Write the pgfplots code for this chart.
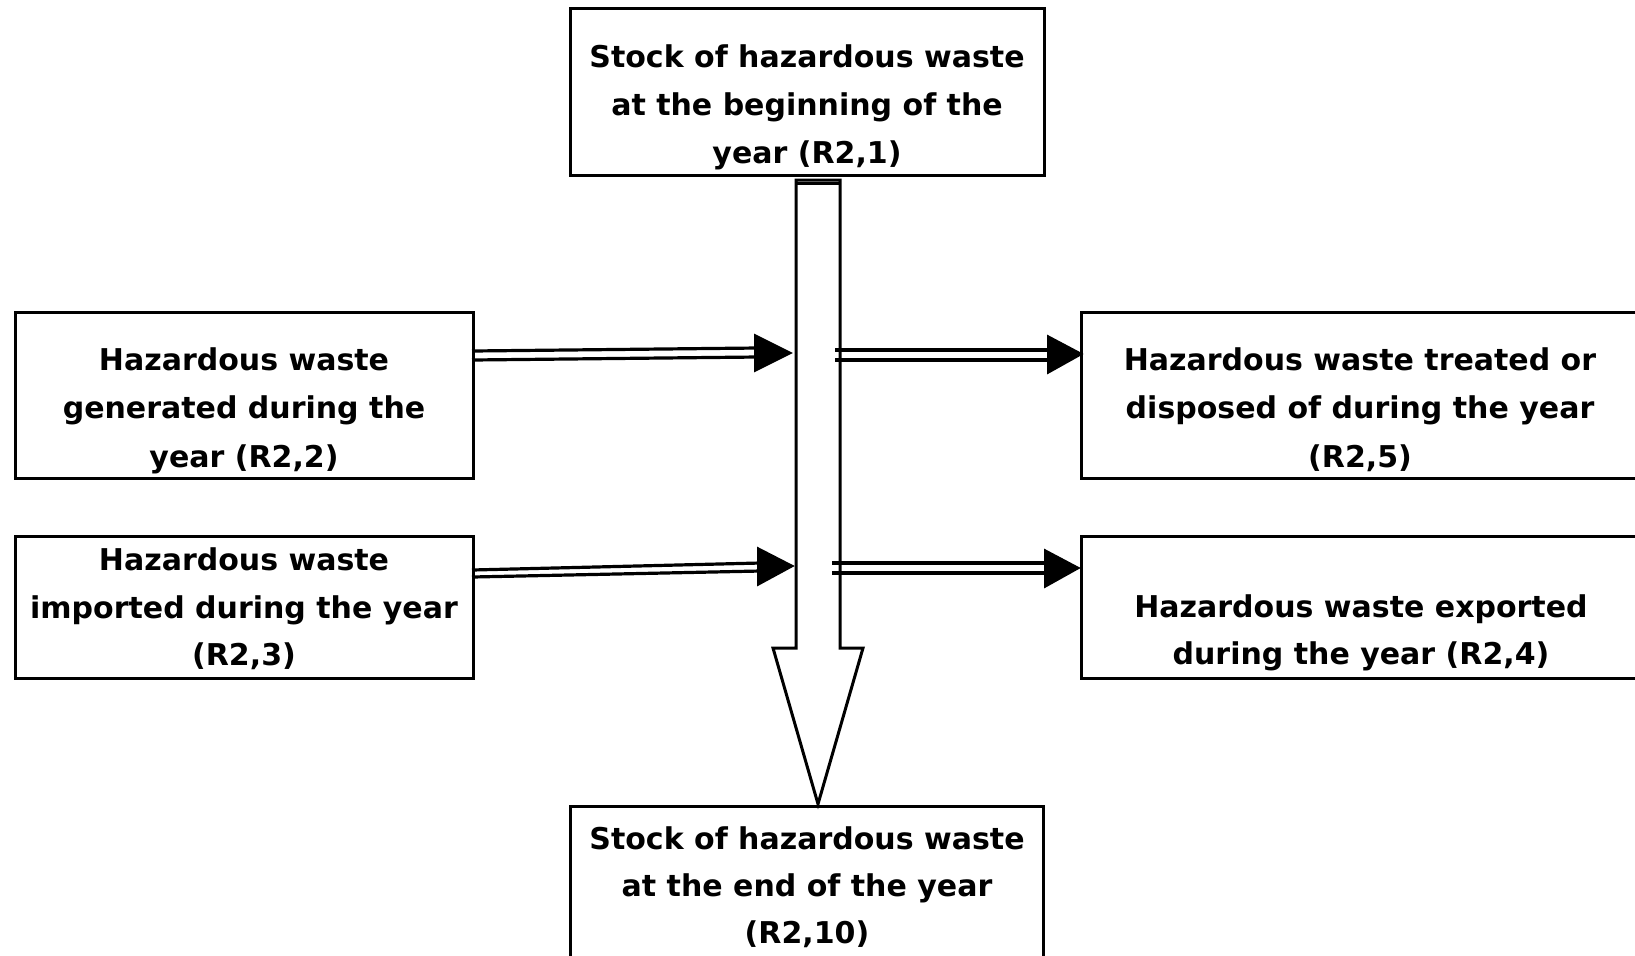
\documentclass[border=0pt]{standalone}
\usepackage{pgfplots}
\pgfplotsset{compat=1.18}
\usepackage{fontspec}
\setmainfont{DejaVu Sans}
\newcommand{\fa}{\fontsize{7.5}{12}\bfseries\selectfont}
\begin{document}
\begin{tikzpicture}
\begin{axis}[
  x=0.25pt, y=0.25pt, y dir=reverse,
  xmin=0, xmax=1635, ymin=0, ymax=955,
  axis lines=none, clip=true,
]
% boxes
\addplot[black, line width=0.75pt, line join=miter] coordinates {(570,8) (1044,8) (1044,175) (570,175)} -- cycle;
\addplot[black, line width=0.75pt] coordinates {(15,312) (473,312) (473,478) (15,478)} -- cycle;
\addplot[black, line width=0.75pt] coordinates {(15,536) (473,536) (473,678) (15,678)} -- cycle;
\addplot[black, line width=0.75pt] coordinates {(1650,312) (1081,312) (1081,478) (1650,478)};
\addplot[black, line width=0.75pt] coordinates {(1650,536) (1081,536) (1081,678) (1650,678)};
\addplot[black, line width=0.75pt] coordinates {(570,970) (570,806) (1043,806) (1043,970)};
% big hollow arrow
\addplot[black, fill=white, line width=0.75pt, line join=miter] coordinates {(796,180) (840,180) (840,648) (863,648) (818,804) (773,648) (796,648)} -- cycle;
\addplot[black, line width=0.75pt] coordinates {(797,183) (839,183)};
% left arrows (double lines)
\addplot[black, line width=0.8pt] coordinates {(472,351) (757,348)};
\addplot[black, line width=0.8pt] coordinates {(472,360) (757,357)};
\addplot[black, fill=black] coordinates {(755,335) (791,353) (755,371)} -- cycle;
\addplot[black, line width=0.8pt] coordinates {(472,570) (760,563)};
\addplot[black, line width=0.8pt] coordinates {(472,577) (760,571)};
\addplot[black, fill=black] coordinates {(758,548) (793,566) (758,585)} -- cycle;
% right arrows
\addplot[black, line width=0.8pt] coordinates {(835,350) (1050,350)};
\addplot[black, line width=0.8pt] coordinates {(835,360) (1050,360)};
\addplot[black, fill=black] coordinates {(1048,336) (1082,354) (1048,373)} -- cycle;
\addplot[black, line width=0.8pt] coordinates {(832,563) (1047,563)};
\addplot[black, line width=0.8pt] coordinates {(832,573) (1047,573)};
\addplot[black, fill=black] coordinates {(1045,550) (1079,568) (1045,587)} -- cycle;
% texts
\node[anchor=base, inner sep=0pt] at (axis cs:807,67) {\fa Stock of hazardous waste};
\node[anchor=base, inner sep=0pt] at (axis cs:807,115) {\fa at the beginning of the};
\node[anchor=base, inner sep=0pt] at (axis cs:807,163) {\fa year (R2,1)};
\node[anchor=base, inner sep=0pt] at (axis cs:244,370) {\fa Hazardous waste};
\node[anchor=base, inner sep=0pt] at (axis cs:244,418) {\fa generated during the};
\node[anchor=base, inner sep=0pt] at (axis cs:244,467) {\fa year (R2,2)};
\node[anchor=base, inner sep=0pt] at (axis cs:244,570) {\fa Hazardous waste};
\node[anchor=base, inner sep=0pt] at (axis cs:244,618) {\fa imported during the year};
\node[anchor=base, inner sep=0pt] at (axis cs:244,665) {\fa (R2,3)};
\node[anchor=base, inner sep=0pt] at (axis cs:1360,370) {\fa Hazardous waste treated or};
\node[anchor=base, inner sep=0pt] at (axis cs:1360,418) {\fa disposed of during the year};
\node[anchor=base, inner sep=0pt] at (axis cs:1360,467) {\fa (R2,5)};
\node[anchor=base, inner sep=0pt] at (axis cs:1361,617) {\fa Hazardous waste exported};
\node[anchor=base, inner sep=0pt] at (axis cs:1361,664) {\fa during the year (R2,4)};
\node[anchor=base, inner sep=0pt] at (axis cs:807,849) {\fa Stock of hazardous waste};
\node[anchor=base, inner sep=0pt] at (axis cs:807,896) {\fa at the end of the year};
\node[anchor=base, inner sep=0pt] at (axis cs:807,943) {\fa (R2,10)};
\coordinate (BL) at (axis cs:0,955);
\coordinate (TR) at (axis cs:1635,0);
\end{axis}
\pgfresetboundingbox
\useasboundingbox (BL) rectangle (TR);
\end{tikzpicture}
\end{document}
